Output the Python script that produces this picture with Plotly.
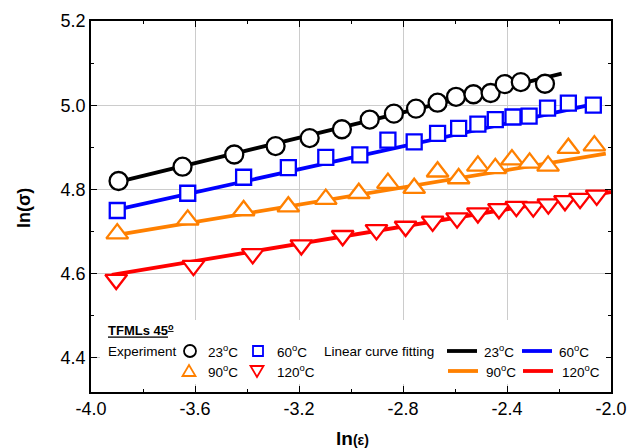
import plotly.graph_objects as go

# ---------------- data ----------------
x23 = [-3.894, -3.648, -3.449, -3.290, -3.159, -3.035, -2.928, -2.835, -2.750, -2.667,
       -2.596, -2.529, -2.463, -2.409, -2.347, -2.254]
y23 = [4.820, 4.854, 4.883, 4.903, 4.922, 4.943, 4.966, 4.980, 4.992, 5.006,
       5.020, 5.026, 5.029, 5.050, 5.055, 5.051]

x60 = [-3.899, -3.628, -3.413, -3.241, -3.097, -2.966, -2.858, -2.757, -2.667, -2.586,
       -2.512, -2.445, -2.377, -2.315, -2.244, -2.164, -2.068]
y60 = [4.750, 4.791, 4.829, 4.852, 4.876, 4.882, 4.917, 4.913, 4.933, 4.945,
       4.955, 4.966, 4.972, 4.974, 4.993, 5.005, 5.000]

x90 = [-3.899, -3.628, -3.413, -3.241, -3.097, -2.970, -2.858, -2.757, -2.667, -2.586,
       -2.512, -2.445, -2.381, -2.313, -2.242, -2.164, -2.064]
y90 = [4.695, 4.728, 4.750, 4.759, 4.777, 4.791, 4.815, 4.803, 4.842, 4.826,
       4.856, 4.850, 4.871, 4.863, 4.856, 4.898, 4.904]

x120 = [-3.903, -3.606, -3.378, -3.191, -3.032, -2.902, -2.790, -2.686, -2.592, -2.512,
        -2.431, -2.364, -2.299, -2.241, -2.177, -2.119, -2.055]
y120 = [4.586, 4.619, 4.647, 4.668, 4.690, 4.704, 4.712, 4.724, 4.732, 4.744,
        4.754, 4.759, 4.758, 4.765, 4.773, 4.778, 4.786]

# linear fit lines (end points)
fit23_x, fit23_y = [-3.895, -2.19], [4.818, 5.075]
fit60_x, fit60_y = [-3.90, -2.05], [4.752, 5.005]
fit90_x, fit90_y = [-3.90, -2.02], [4.692, 4.885]
fit120_x, fit120_y = [-3.92, -2.00], [4.597, 4.794]

x_ticks = [-4.0, -3.6, -3.2, -2.8, -2.4, -2.0]
x_ticklabels = ["-4.0", "-3.6", "-3.2", "-2.8", "-2.4", "-2.0"]
y_ticks = [4.4, 4.6, 4.8, 5.0, 5.2]
y_ticklabels = ["4.4", "4.6", "4.8", "5.0", "5.2"]

BLACK, BLUE, ORANGE, RED = "#000000", "#0000ff", "#ff8000", "#ff0000"
FONT = "Arial, Liberation Sans, sans-serif"

# ---------------- figure ----------------
W, H = 637, 448
L, R, T, B = 91, 26, 21, 56
PW, PH = W - L - R, H - T - B

fig = go.Figure()

for fx, fy, c in [(fit23_x, fit23_y, BLACK), (fit60_x, fit60_y, BLUE),
                  (fit90_x, fit90_y, ORANGE), (fit120_x, fit120_y, RED)]:
    fig.add_trace(go.Scatter(x=fx, y=fy, mode="lines",
                             line=dict(color=c, width=3.8), showlegend=False,
                             hoverinfo="skip"))

for xs, ys, c, sym, sz in [(x23, y23, BLACK, "circle", 18),
                           (x60, y60, BLUE, "square", 15),
                           (x90, y90, ORANGE, "triangle-up", 19),
                           (x120, y120, RED, "triangle-down", 19)]:
    fig.add_trace(go.Scatter(x=xs, y=ys, mode="markers",
                             marker=dict(symbol=sym, size=sz, color="white",
                                         line=dict(color=c, width=2.3)),
                             showlegend=False))


def px2paper(px, py):
    return (px - L) / PW, (H - B - py) / PH


shapes = []
annotations = []

# white legend box (hides gridlines)
x0p, y1p = px2paper(100, 320)
x1p, y0p = px2paper(606, 384)
shapes.append(dict(type="rect", xref="paper", yref="paper", x0=x0p, x1=x1p,
                   y0=y0p, y1=y1p, fillcolor="white", line=dict(width=0),
                   layer="above"))


def txt(px, py, s, size=13.5, bold=False):
    xp, yp = px2paper(px, py)
    annotations.append(dict(xref="paper", yref="paper", x=xp, y=yp, text=s,
                            showarrow=False, xanchor="left", yanchor="middle",
                            font=dict(family=FONT, size=size, color="black")))


def marker_shape(px, py, kind, color, s=6):
    xp, yp = px2paper(px, py)
    base = dict(xref="paper", yref="paper", xsizemode="pixel", ysizemode="pixel",
                xanchor=xp, yanchor=yp, line=dict(color=color, width=1.8),
                fillcolor="white", layer="above")
    if kind == "circle":
        base.update(type="circle", x0=-s, x1=s, y0=-s, y1=s)
    elif kind == "square":
        base.update(type="rect", x0=-5, x1=5, y0=-5, y1=5)
    elif kind == "tri-up":
        base.update(type="path", path="M -6.5,-5 L 6.5,-5 L 0,6 Z")
    elif kind == "tri-down":
        base.update(type="path", path="M -6.5,5 L 6.5,5 L 0,-6 Z")
    shapes.append(base)


def line_shape(px0, px1, py, color):
    xa, ya = px2paper(px0, py)
    xb, _ = px2paper(px1, py)
    shapes.append(dict(type="line", xref="paper", yref="paper", x0=xa, x1=xb,
                       y0=ya, y1=ya, line=dict(color=color, width=3.8),
                       layer="above"))


deg = "<sup>o</sup>C"
txt(106, 330, "<b><u>TFMLs 45<sup>o</sup></u></b>", 13)
txt(106, 351, "Experiment")
marker_shape(190, 351, "circle", BLACK)
txt(206, 351, "23" + deg)
marker_shape(258, 351, "square", BLUE)
txt(275, 351, "60" + deg)
txt(322, 351, "Linear curve fitting")
line_shape(447, 477, 351, BLACK)
txt(482, 351, "23" + deg)
line_shape(522, 552, 351, BLUE)
txt(557, 351, "60" + deg)

marker_shape(189, 371, "tri-up", ORANGE)
txt(206, 371, "90" + deg)
marker_shape(257, 371, "tri-down", RED)
txt(275, 371, "120" + deg)
line_shape(448, 478, 371, ORANGE)
txt(484, 371, "90" + deg)
line_shape(523, 553, 371, RED)
txt(560, 371, "120" + deg)

# axis titles
annotations.append(dict(xref="paper", yref="paper", x=px2paper(352, 0)[0], y=px2paper(0, 438)[1],
                        text="<b>ln<span style='font-size:14px'>(ε)</span></b>",
                        showarrow=False, xanchor="center", yanchor="middle",
                        font=dict(family=FONT, size=19, color="black")))
annotations.append(dict(xref="paper", yref="paper", x=px2paper(24, 0)[0], y=px2paper(0, 208)[1],
                        text="<b>ln(σ)</b>", textangle=-90,
                        showarrow=False, xanchor="center", yanchor="middle",
                        font=dict(family=FONT, size=18, color="black")))

axis_common = dict(showline=True, linecolor="black", linewidth=1.5, mirror="allticks",
                   ticks="inside", ticklen=6, tickwidth=1.3, tickcolor="black",
                   showgrid=True, gridcolor="#cccccc", gridwidth=1, zeroline=False,
                   tickfont=dict(family=FONT, size=18, color="black"))

fig.update_layout(
    width=W, height=H, margin=dict(l=L, r=R, t=T, b=B, autoexpand=False),
    paper_bgcolor="white", plot_bgcolor="white",
    shapes=shapes, annotations=annotations, showlegend=False,
    xaxis=dict(range=[-4.0, -2.0], tickvals=x_ticks, ticktext=x_ticklabels,
               minor=dict(ticks="inside", ticklen=3, tickwidth=1.2, dtick=0.2,
                          tickcolor="black", showgrid=False),
               **axis_common),
    yaxis=dict(range=[4.319, 5.2], tickvals=y_ticks, ticktext=y_ticklabels,
               minor=dict(ticks="inside", ticklen=3, tickwidth=1.2, dtick=0.1,
                          tickcolor="black", showgrid=False),
               **axis_common),
)

fig.write_html("out.html")
